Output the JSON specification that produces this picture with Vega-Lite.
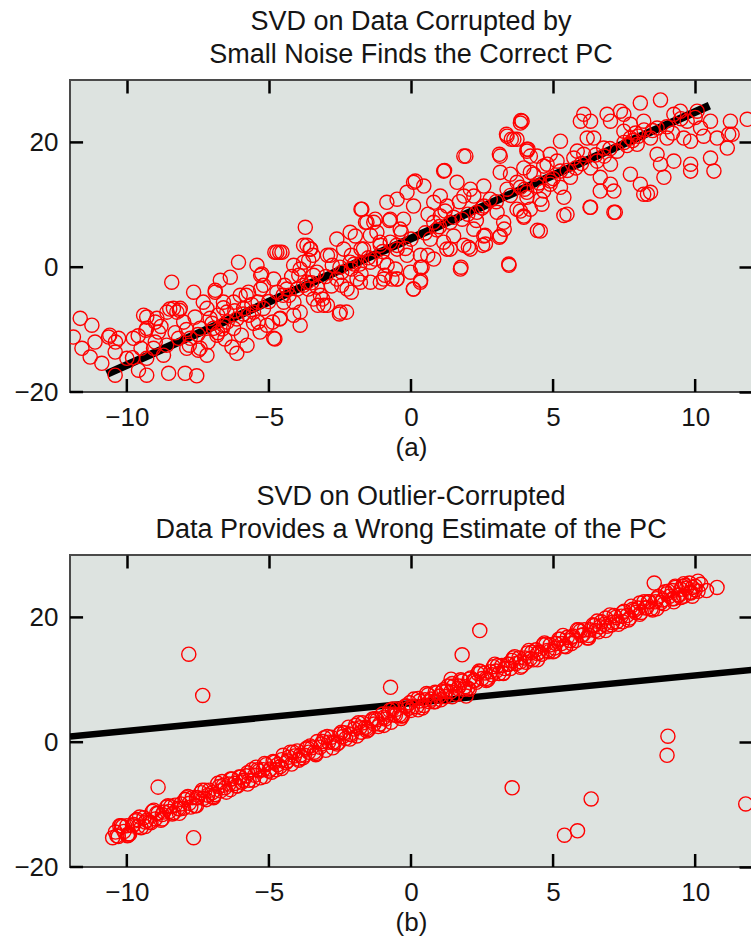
{
"$schema": "https://vega.github.io/schema/vega-lite/v6.json",
"background": "white",
"padding": {"left": 12, "top": 6, "right": 0, "bottom": 0},
"spacing": 20,
"config": {
  "font": "Liberation Sans, Arial, Helvetica, sans-serif",
  "view": {"fill": "#dde3e0", "stroke": "#4a4a4a", "strokeWidth": 2},
  "axis": {"grid": false, "domain": false, "zindex": 2, "ticks": true, "tickColor": "#000000", "tickOpacity": 1, "tickWidth": 2.5, "tickSize": 13, "offset": -13, "labelFontSize": 26, "labelColor": "#151515", "titleFontSize": 26, "titleFontWeight": "normal", "titleColor": "#151515", "labelPadding": 12, "titlePadding": 4},
  "title": {"fontSize": 27, "fontWeight": "normal", "lineHeight": 33, "color": "#151515", "offset": 10}
},
"datasets": {
  "xticks": [{"t": -10}, {"t": -5}, {"t": 0}, {"t": 5}, {"t": 10}],
  "yticks": [{"t": -20}, {"t": 0}, {"t": 20}],
  "lineA": [{"x": -10.7, "y": -17.1}, {"x": 10.5, "y": 25.9}],
  "lineB": [{"x": -12, "y": 0.9}, {"x": 12, "y": 11.6}],
  "ptsA": [
{"x":-11.64,"y":-8.2},{"x":-11.88,"y":-11.2},{"x":-11.23,"y":-9.3},{"x":-11.58,"y":-13.0},{"x":-11.12,"y":-12.0},{"x":-11.29,"y":-14.4},{"x":-10.64,"y":-11.2},{"x":-10.29,"y":-11.4},{"x":-10.41,"y":-13.6},{"x":-10.88,"y":-15.4},{"x":-10.41,"y":-17.3},{"x":-9.59,"y":-16.5},{"x":-9.3,"y":-17.3},{"x":-9.41,"y":-7.7},{"x":-9.3,"y":-9.8},{"x":-9.77,"y":-11.4},{"x":-8.89,"y":-10.4},{"x":-9.06,"y":-13.0},{"x":-8.59,"y":-7.2},{"x":-8.42,"y":-2.4},{"x":-8.24,"y":-7.2},{"x":-8.0,"y":-8.8},{"x":-8.53,"y":-17.0},{"x":-7.95,"y":-17.0},{"x":-7.54,"y":-17.4},{"x":-7.65,"y":-4.0},{"x":-7.77,"y":-11.4},{"x":-7.42,"y":-13.0},{"x":-7.18,"y":-14.1},{"x":-7.07,"y":-8.2},{"x":-6.89,"y":-3.7},{"x":-6.71,"y":-2.1},{"x":-6.36,"y":-1.6},{"x":-6.07,"y":0.8},{"x":-6.6,"y":-5.6},{"x":-6.48,"y":-7.2},{"x":-6.24,"y":-9.8},{"x":-6.13,"y":-13.8},{"x":-5.77,"y":-12.5},{"x":-5.54,"y":-7.2},{"x":-5.42,"y":0.3},{"x":-5.25,"y":-1.1},{"x":-5.19,"y":-2.9},{"x":-4.83,"y":-1.9},{"x":-4.72,"y":-4.0},{"x":-4.48,"y":-5.6},{"x":-4.83,"y":-11.4},{"x":-4.72,"y":2.4},{"x":-4.54,"y":2.4},{"x":-4.13,"y":0.3},{"x":-3.9,"y":-0.3},{"x":-3.72,"y":6.4},{"x":-3.66,"y":3.5},{"x":-3.6,"y":1.1},{"x":-3.9,"y":-7.2},{"x":-3.9,"y":-9.3},{"x":-4.6,"y":-8.2},{"x":-5.19,"y":-6.6},{"x":-5.72,"y":-4.0},{"x":-6.83,"y":-10.9},{"x":-7.42,"y":-9.8},{"x":-7.89,"y":-13.0},{"x":-8.18,"y":-11.4},{"x":-8.71,"y":-14.1},{"x":-9.3,"y":-14.6},{"x":-10.0,"y":-14.6},{"x":-9.3,"y":-8.0},{"x":-8.94,"y":-8.2},{"x":-8.36,"y":-6.6},{"x":-8.12,"y":-6.6},{"x":-7.18,"y":-6.6},{"x":-6.95,"y":-9.8},{"x":-6.6,"y":-9.3},{"x":-6.24,"y":-5.6},{"x":-6.01,"y":-4.5},{"x":-5.89,"y":-6.6},{"x":-5.07,"y":-9.3},{"x":-5.31,"y":-10.4},{"x":-5.54,"y":-9.0},{"x":-4.37,"y":-3.5},{"x":-4.13,"y":-7.7},{"x":-3.78,"y":-2.9},{"x":-3.43,"y":-5.1},{"x":-3.43,"y":-1.3},
{"x":-3.78,"y":0.8},{"x":-3.55,"y":2.9},{"x":-3.31,"y":-0.8},{"x":-3.66,"y":-2.4},{"x":-3.19,"y":-4.5},{"x":-3.07,"y":-6.1},{"x":-2.49,"y":-7.2},{"x":-2.61,"y":-1.9},{"x":-2.84,"y":1.9},{"x":-2.14,"y":5.6},{"x":-1.96,"y":5.0},{"x":-1.73,"y":9.3},{"x":-1.55,"y":7.2},{"x":-1.31,"y":7.2},{"x":-1.2,"y":5.6},{"x":-1.67,"y":2.9},{"x":-1.43,"y":0.8},{"x":-1.08,"y":3.5},{"x":-0.73,"y":7.7},{"x":-0.85,"y":10.4},{"x":-0.49,"y":10.9},{"x":-0.14,"y":12.0},{"x":0.15,"y":13.8},{"x":0.45,"y":13.0},{"x":0.09,"y":9.8},{"x":-0.26,"y":7.7},{"x":-0.38,"y":6.1},{"x":-0.73,"y":4.0},{"x":-0.96,"y":0.8},{"x":-0.49,"y":2.9},{"x":-0.55,"y":-0.3},{"x":-0.96,"y":-1.9},{"x":-0.49,"y":-1.9},{"x":-1.08,"y":-2.4},{"x":-1.9,"y":-1.9},{"x":-2.14,"y":0.8},{"x":-2.37,"y":2.9},{"x":-2.61,"y":4.5},{"x":-1.78,"y":-2.4},{"x":-2.25,"y":-3.5},{"x":0.09,"y":-3.5},{"x":0.33,"y":-2.4},{"x":0.39,"y":0.0},{"x":0.33,"y":1.9},{"x":0.8,"y":1.3},{"x":0.68,"y":4.5},{"x":0.8,"y":7.2},{"x":0.8,"y":10.4},{"x":1.03,"y":11.4},{"x":1.27,"y":9.8},{"x":1.15,"y":15.4},{"x":1.62,"y":13.6},{"x":1.86,"y":11.4},{"x":1.38,"y":7.2},{"x":1.5,"y":5.0},{"x":1.15,"y":4.0},{"x":1.86,"y":3.5},{"x":2.09,"y":2.9},{"x":1.74,"y":-0.3},{"x":1.38,"y":2.9},{"x":1.03,"y":8.2},{"x":2.21,"y":6.1},{"x":2.32,"y":8.8},{"x":2.21,"y":11.4},{"x":2.09,"y":12.5},{"x":2.56,"y":13.0},{"x":2.79,"y":10.9},{"x":2.56,"y":9.8},{"x":3.03,"y":8.8},{"x":3.26,"y":7.2},{"x":3.14,"y":5.0},{"x":2.62,"y":3.7},{"x":2.56,"y":5.0},{"x":1.86,"y":17.8},{"x":1.8,"y":7.7},{"x":3.14,"y":17.8},{"x":3.14,"y":15.2},{"x":3.5,"y":14.9},{"x":3.38,"y":12.5},{"x":3.73,"y":9.3},{"x":3.97,"y":8.2},{"x":4.2,"y":9.3},{"x":4.08,"y":12.0},{"x":4.44,"y":13.0},{"x":4.55,"y":10.9},{"x":4.55,"y":5.8},{"x":3.44,"y":0.5},{"x":3.38,"y":21.0},{"x":3.62,"y":20.5},{"x":3.85,"y":23.1},{"x":4.08,"y":18.9},{"x":4.44,"y":17.8},{"x":4.67,"y":16.2},{"x":4.2,"y":15.2},{"x":3.73,"y":13.6},{"x":0.09,"y":13.6},{"x":-0.14,"y":1.9},{"x":-0.02,"y":-0.8},
{"x":-0.67,"y":-1.9},{"x":-0.5,"y":-1.9},{"x":-0.92,"y":-1.3},{"x":0.08,"y":-3.5},{"x":0.34,"y":-2.1},{"x":0.34,"y":0.0},{"x":1.76,"y":0.0},{"x":3.45,"y":0.3},{"x":1.18,"y":15.5},{"x":1.93,"y":17.8},{"x":3.87,"y":23.5},{"x":3.36,"y":21.3},{"x":3.53,"y":20.5},{"x":0.59,"y":1.9},{"x":1.26,"y":2.9},{"x":2.02,"y":3.2},{"x":2.52,"y":3.5},{"x":2.61,"y":5.1},{"x":3.11,"y":4.8},{"x":3.28,"y":6.1},{"x":3.11,"y":18.1},{"x":4.12,"y":18.9},{"x":4.45,"y":5.9},{"x":5.38,"y":8.3},{"x":6.3,"y":9.6},{"x":7.14,"y":8.8},{"x":8.32,"y":11.7},
{"x":-1.76,"y":9.3},{"x":-1.6,"y":7.2},{"x":-1.26,"y":7.7},{"x":-0.76,"y":7.5},{"x":-0.34,"y":5.6},{"x":-1.43,"y":5.1},{"x":-1.09,"y":4.0},{"x":-1.76,"y":2.9},{"x":-2.1,"y":1.9},{"x":-1.26,"y":1.3},{"x":-0.84,"y":0.3},{"x":-2.1,"y":-0.3},{"x":-2.77,"y":0.3},{"x":-2.94,"y":1.9},{"x":-2.44,"y":-0.8},{"x":-1.76,"y":-1.1},{"x":-1.43,"y":-2.4},{"x":-2.44,"y":-2.9},{"x":-2.1,"y":-4.0},{"x":-2.27,"y":-7.2},{"x":-2.52,"y":-7.5},{"x":-3.11,"y":-5.1},{"x":-3.28,"y":-6.1},{"x":-2.94,"y":-6.1},{"x":-3.61,"y":-3.5},{"x":-3.78,"y":3.5},{"x":-3.53,"y":2.9},{"x":-3.45,"y":1.9},{"x":-3.95,"y":-1.3},{"x":-4.45,"y":-2.9},{"x":-4.29,"y":-4.5},{"x":-4.12,"y":-5.6},{"x":-4.62,"y":-8.3},{"x":-4.87,"y":-8.8},{"x":-4.79,"y":-11.5},{"x":-5.38,"y":-8.8},{"x":-5.71,"y":-7.7},{"x":-5.8,"y":-4.5},{"x":-5.29,"y":-1.3},{"x":-4.79,"y":2.4},{"x":-4.62,"y":2.4},
{"x":-9.33,"y":-10.1},{"x":-9.0,"y":-8.8},{"x":-8.49,"y":-6.7},{"x":-8.15,"y":-6.9},{"x":-7.8,"y":-12.5},{"x":-7.48,"y":-13.3},{"x":-7.14,"y":-12.0},{"x":-6.64,"y":-9.9},{"x":-6.47,"y":-8.8},{"x":-6.13,"y":-8.3},{"x":-5.97,"y":-10.9},{"x":-6.55,"y":-11.5},{"x":-6.3,"y":-12.8},{"x":-7.31,"y":-5.6},{"x":-6.89,"y":-4.0},{"x":-6.8,"y":-7.7},{"x":-5.38,"y":-5.6},{"x":-5.29,"y":-3.5},{"x":-10.6,"y":-10.9},{"x":-10.4,"y":-12.0},{"x":11.18,"y":21.3},
{"x":3.91,"y":23.4},{"x":3.73,"y":20.5},{"x":4.08,"y":18.6},{"x":4.2,"y":17.8},{"x":3.97,"y":15.9},{"x":4.32,"y":14.9},{"x":3.85,"y":12.8},{"x":4.08,"y":11.2},{"x":3.85,"y":9.0},{"x":3.97,"y":8.0},{"x":4.61,"y":10.1},{"x":4.67,"y":12.2},{"x":4.9,"y":13.3},{"x":4.79,"y":16.5},{"x":4.9,"y":18.1},{"x":5.26,"y":20.2},{"x":5.14,"y":17.0},{"x":5.26,"y":15.4},{"x":5.26,"y":12.8},{"x":5.49,"y":8.5},{"x":5.38,"y":11.2},{"x":5.61,"y":14.4},{"x":5.73,"y":17.5},{"x":5.85,"y":18.6},{"x":5.96,"y":23.4},{"x":6.08,"y":24.5},{"x":6.32,"y":23.4},{"x":6.2,"y":20.7},{"x":6.43,"y":20.7},{"x":6.08,"y":18.1},{"x":6.32,"y":15.9},{"x":6.55,"y":17.0},{"x":6.78,"y":19.1},{"x":6.66,"y":14.4},{"x":6.32,"y":9.6},{"x":6.66,"y":12.2},{"x":7.14,"y":12.2},{"x":7.02,"y":13.3},{"x":7.19,"y":8.8},{"x":7.02,"y":16.5},{"x":7.25,"y":18.6},{"x":7.49,"y":21.8},{"x":7.72,"y":20.7},{"x":7.96,"y":19.7},{"x":7.72,"y":22.9},{"x":7.37,"y":25.0},{"x":7.49,"y":24.5},{"x":6.9,"y":24.5},{"x":7.02,"y":23.4},{"x":8.07,"y":26.3},{"x":7.72,"y":14.9},{"x":8.07,"y":13.3},{"x":8.19,"y":23.4},{"x":8.43,"y":20.7},{"x":8.66,"y":22.3},{"x":8.78,"y":26.8},{"x":8.66,"y":18.1},{"x":8.78,"y":16.5},{"x":8.9,"y":14.4},{"x":9.25,"y":17.0},{"x":9.01,"y":20.7},{"x":9.25,"y":24.5},{"x":9.48,"y":25.0},{"x":9.72,"y":23.4},{"x":9.6,"y":20.7},{"x":9.84,"y":20.2},{"x":9.84,"y":16.5},{"x":9.84,"y":15.4},{"x":10.07,"y":25.0},{"x":10.19,"y":22.3},{"x":10.54,"y":23.4},{"x":10.66,"y":15.4},{"x":10.77,"y":20.7},{"x":11.13,"y":19.1},{"x":11.24,"y":23.4},{"x":11.3,"y":21.3},{"x":11.83,"y":23.7},{"x":8.19,"y":11.7},{"x":8.43,"y":12.0},{"x":10.54,"y":17.5},
{"x":5.0,"y":14.2},{"x":5.5,"y":15.5},{"x":6.0,"y":16.6},{"x":6.5,"y":18.0},{"x":7.0,"y":19.0},{"x":7.5,"y":20.0},{"x":8.0,"y":21.0},{"x":8.5,"y":21.9},{"x":9.0,"y":22.5},{"x":9.5,"y":23.8},{"x":10.0,"y":24.0},{"x":7.8,"y":20.3},{"x":7.6,"y":19.5},{"x":7.9,"y":21.5},{"x":8.2,"y":22.0},{"x":5.8,"y":15.9},{"x":6.8,"y":17.8},{"x":4.9,"y":13.8},{"x":9.2,"y":21.5},{"x":10.3,"y":21.0},
{"x":-9.8,"y":-14.5},{"x":-9.5,"y":-13.0},{"x":-9.0,"y":-12.0},{"x":-8.6,"y":-12.5},{"x":-8.3,"y":-10.5},{"x":-7.9,"y":-10.0},{"x":-7.5,"y":-10.8},{"x":-7.0,"y":-9.0},{"x":-6.8,"y":-10.5},{"x":-6.2,"y":-7.0},{"x":-5.9,"y":-7.5},{"x":-5.6,"y":-6.0},{"x":-5.0,"y":-5.5},{"x":-4.5,"y":-4.5},{"x":-4.0,"y":-3.5},{"x":-3.5,"y":-2.5},{"x":-3.0,"y":-1.5},{"x":-2.5,"y":0.0},{"x":-2.0,"y":0.5},{"x":-1.5,"y":1.5},{"x":-1.0,"y":2.5},{"x":-0.5,"y":3.5},{"x":0.0,"y":4.5},{"x":0.5,"y":5.5},{"x":1.0,"y":6.5},{"x":1.5,"y":8.0},{"x":2.0,"y":8.5},{"x":2.5,"y":9.5},{"x":3.0,"y":10.5},{"x":3.5,"y":11.5},{"x":4.0,"y":12.5},{"x":4.5,"y":13.5},{"x":1.2,"y":9.0},{"x":0.6,"y":8.5},{"x":0.9,"y":6.0},{"x":1.7,"y":10.5},{"x":2.3,"y":7.5},{"x":-0.2,"y":3.0},{"x":-1.8,"y":0.5},{"x":-2.8,"y":-3.0},{"x":-3.3,"y":-3.2},{"x":-4.2,"y":-1.5},{"x":-6.6,"y":-6.5},{"x":-7.6,"y":-8.0},{"x":-8.8,"y":-9.5},{"x":-9.6,"y":-11.0}
  ],
  "ptsB": [
{"x":-10.4,"y":-14.4},{"x":-10.3,"y":-15.1},{"x":-10.2,"y":-13.4},{"x":-10.1,"y":-14.3},{"x":-10.0,"y":-13.4},{"x":-9.9,"y":-14.7},{"x":-9.8,"y":-13.4},{"x":-9.7,"y":-12.6},{"x":-9.6,"y":-13.5},{"x":-9.5,"y":-13.7},{"x":-9.4,"y":-12.1},{"x":-9.3,"y":-12.5},{"x":-9.2,"y":-12.8},{"x":-9.1,"y":-11.1},{"x":-9.0,"y":-12.3},{"x":-8.9,"y":-11.4},{"x":-8.8,"y":-12.5},{"x":-8.7,"y":-11.2},{"x":-8.6,"y":-10.4},{"x":-8.5,"y":-11.1},{"x":-8.4,"y":-11.5},{"x":-8.3,"y":-10.1},{"x":-8.2,"y":-10.6},
{"x":-8.1,"y":-9.9},{"x":-8.0,"y":-10.6},{"x":-7.9,"y":-8.9},{"x":-7.8,"y":-9.8},{"x":-7.7,"y":-8.9},{"x":-7.6,"y":-10.2},{"x":-7.5,"y":-8.9},{"x":-7.4,"y":-8.1},{"x":-7.3,"y":-9.0},{"x":-7.2,"y":-9.2},{"x":-7.1,"y":-7.7},{"x":-7.0,"y":-8.1},{"x":-6.9,"y":-8.4},{"x":-6.8,"y":-6.6},{"x":-6.7,"y":-7.8},{"x":-6.6,"y":-6.9},{"x":-6.5,"y":-8.0},{"x":-6.4,"y":-6.7},{"x":-6.3,"y":-5.9},{"x":-6.2,"y":-6.6},{"x":-6.1,"y":-7.0},{"x":-6.0,"y":-5.6},{"x":-5.9,"y":-6.1},
{"x":-5.8,"y":-5.4},{"x":-5.7,"y":-6.1},{"x":-5.6,"y":-4.4},{"x":-5.5,"y":-5.3},{"x":-5.4,"y":-4.4},{"x":-5.3,"y":-5.7},{"x":-5.2,"y":-4.4},{"x":-5.1,"y":-3.6},{"x":-5.0,"y":-4.6},{"x":-4.9,"y":-4.8},{"x":-4.8,"y":-3.2},{"x":-4.7,"y":-3.6},{"x":-4.6,"y":-3.9},{"x":-4.5,"y":-2.1},{"x":-4.4,"y":-3.3},{"x":-4.3,"y":-2.4},{"x":-4.2,"y":-3.5},{"x":-4.1,"y":-2.2},{"x":-4.0,"y":-1.4},{"x":-3.9,"y":-2.1},{"x":-3.8,"y":-2.5},{"x":-3.7,"y":-1.1},{"x":-3.6,"y":-1.6},
{"x":-3.5,"y":-0.9},{"x":-3.4,"y":-1.6},{"x":-3.3,"y":0.1},{"x":-3.2,"y":-0.8},{"x":-3.1,"y":0.1},{"x":-3.0,"y":-1.3},{"x":-2.9,"y":0.0},{"x":-2.8,"y":0.8},{"x":-2.7,"y":-0.1},{"x":-2.6,"y":-0.3},{"x":-2.5,"y":1.3},{"x":-2.4,"y":0.9},{"x":-2.3,"y":0.6},{"x":-2.2,"y":2.4},{"x":-2.1,"y":1.2},{"x":-2.0,"y":2.1},{"x":-1.9,"y":1.0},{"x":-1.8,"y":2.3},{"x":-1.7,"y":3.1},{"x":-1.6,"y":2.4},{"x":-1.5,"y":2.0},{"x":-1.4,"y":3.4},{"x":-1.3,"y":2.9},
{"x":-1.2,"y":3.6},{"x":-1.1,"y":2.9},{"x":-1.0,"y":4.5},{"x":-0.9,"y":3.7},{"x":-0.8,"y":4.5},{"x":-0.7,"y":3.2},{"x":-0.6,"y":4.5},{"x":-0.5,"y":5.3},{"x":-0.4,"y":4.4},{"x":-0.3,"y":4.2},{"x":-0.2,"y":5.8},{"x":-0.1,"y":5.4},{"x":0.0,"y":5.1},{"x":0.1,"y":6.9},{"x":0.2,"y":5.7},{"x":0.3,"y":6.6},{"x":0.4,"y":5.5},{"x":0.5,"y":6.8},{"x":0.6,"y":7.6},{"x":0.7,"y":6.9},{"x":0.8,"y":6.5},{"x":0.9,"y":7.9},{"x":1.0,"y":7.4},
{"x":1.1,"y":8.1},{"x":1.2,"y":7.3},{"x":1.3,"y":9.0},{"x":1.4,"y":8.1},{"x":1.5,"y":9.0},{"x":1.6,"y":7.7},{"x":1.7,"y":9.0},{"x":1.8,"y":9.8},{"x":1.9,"y":8.9},{"x":2.0,"y":8.7},{"x":2.1,"y":10.3},{"x":2.2,"y":9.9},{"x":2.3,"y":9.6},{"x":2.4,"y":11.4},{"x":2.5,"y":10.2},{"x":2.6,"y":11.1},{"x":2.7,"y":10.0},{"x":2.8,"y":11.3},{"x":2.9,"y":12.1},{"x":3.0,"y":11.4},{"x":3.1,"y":11.0},{"x":3.2,"y":12.3},{"x":3.3,"y":11.8},
{"x":3.4,"y":12.5},{"x":3.5,"y":11.8},{"x":3.6,"y":13.5},{"x":3.7,"y":12.6},{"x":3.8,"y":13.5},{"x":3.9,"y":12.2},{"x":4.0,"y":13.5},{"x":4.1,"y":14.3},{"x":4.2,"y":13.4},{"x":4.3,"y":13.2},{"x":4.4,"y":14.8},{"x":4.5,"y":14.4},{"x":4.6,"y":14.1},{"x":4.7,"y":15.9},{"x":4.8,"y":14.7},{"x":4.9,"y":15.6},{"x":5.0,"y":14.5},{"x":5.1,"y":15.8},{"x":5.2,"y":16.5},{"x":5.3,"y":15.8},{"x":5.4,"y":15.4},{"x":5.5,"y":16.8},{"x":5.6,"y":16.3},
{"x":5.7,"y":17.0},{"x":5.8,"y":16.3},{"x":5.9,"y":18.0},{"x":6.0,"y":17.1},{"x":6.1,"y":18.0},{"x":6.2,"y":16.7},{"x":6.3,"y":18.0},{"x":6.4,"y":18.8},{"x":6.5,"y":17.9},{"x":6.6,"y":17.7},{"x":6.7,"y":19.3},{"x":6.8,"y":18.9},{"x":6.9,"y":18.6},{"x":7.0,"y":20.4},{"x":7.1,"y":19.2},{"x":7.2,"y":20.0},{"x":7.3,"y":18.9},{"x":7.4,"y":20.2},{"x":7.5,"y":21.0},{"x":7.6,"y":20.3},{"x":7.7,"y":19.9},{"x":7.8,"y":21.3},{"x":7.9,"y":20.8},
{"x":8.0,"y":21.5},{"x":8.1,"y":20.8},{"x":8.2,"y":22.5},{"x":8.3,"y":21.6},{"x":8.4,"y":22.5},{"x":8.5,"y":21.2},{"x":8.6,"y":22.5},{"x":8.7,"y":23.3},{"x":8.8,"y":22.4},{"x":8.9,"y":22.2},{"x":9.0,"y":23.8},{"x":9.1,"y":23.4},{"x":9.2,"y":23.0},{"x":9.3,"y":24.8},{"x":9.4,"y":23.6},{"x":9.5,"y":24.5},{"x":9.6,"y":23.4},{"x":9.7,"y":24.7},{"x":9.8,"y":25.5},{"x":9.9,"y":24.8},{"x":10.0,"y":24.4},{"x":10.1,"y":25.8},{"x":10.2,"y":25.3},
{"x":-10.35,"y":-15.0},{"x":-10.15,"y":-13.5},{"x":-9.95,"y":-14.7},{"x":-9.75,"y":-13.2},{"x":-9.55,"y":-12.0},{"x":-9.35,"y":-12.8},{"x":-9.15,"y":-12.9},{"x":-8.95,"y":-11.4},{"x":-8.75,"y":-11.6},{"x":-8.55,"y":-10.2},{"x":-8.35,"y":-11.3},{"x":-8.15,"y":-10.7},{"x":-7.95,"y":-9.2},{"x":-7.75,"y":-10.4},{"x":-7.55,"y":-8.9},{"x":-7.35,"y":-7.7},{"x":-7.15,"y":-8.5},{"x":-6.95,"y":-8.7},{"x":-6.75,"y":-7.1},{"x":-6.55,"y":-7.3},{"x":-6.35,"y":-5.9},{"x":-6.15,"y":-7.0},{"x":-5.95,"y":-6.4},{"x":-5.75,"y":-4.9},{"x":-5.55,"y":-6.1},{"x":-5.35,"y":-4.6},{"x":-5.15,"y":-3.4},{"x":-4.95,"y":-4.3},{"x":-4.75,"y":-4.4},{"x":-4.55,"y":-2.8},{"x":-4.35,"y":-3.0},{"x":-4.15,"y":-1.6},{"x":-3.95,"y":-2.7},{"x":-3.75,"y":-2.1},{"x":-3.55,"y":-0.6},{"x":-3.35,"y":-1.8},{"x":-3.15,"y":-0.3},{"x":-2.95,"y":0.9},{"x":-2.75,"y":0.0},{"x":-2.55,"y":-0.1},{"x":-2.35,"y":1.5},{"x":-2.15,"y":1.3},{"x":-1.95,"y":2.7},{"x":-1.75,"y":1.6},{"x":-1.55,"y":2.2},{"x":-1.35,"y":3.7},{"x":-1.15,"y":2.5},{"x":-0.95,"y":4.0},{"x":-0.75,"y":5.1},{"x":-0.55,"y":4.3},{"x":-0.35,"y":4.2},{"x":-0.15,"y":5.8},{"x":0.05,"y":5.6},{"x":0.25,"y":7.0},{"x":0.45,"y":5.9},{"x":0.65,"y":6.5},{"x":0.85,"y":8.0},{"x":1.05,"y":6.8},{"x":1.25,"y":8.2},{"x":1.45,"y":9.4},{"x":1.65,"y":8.6},{"x":1.85,"y":8.5},{"x":2.05,"y":10.1},{"x":2.25,"y":9.9},{"x":2.45,"y":11.3},{"x":2.65,"y":10.2},{"x":2.85,"y":10.8},{"x":3.05,"y":12.3},{"x":3.25,"y":11.0},{"x":3.45,"y":12.5},{"x":3.65,"y":13.7},{"x":3.85,"y":12.9},{"x":4.05,"y":12.8},{"x":4.25,"y":14.4},{"x":4.45,"y":14.2},{"x":4.65,"y":15.6},{"x":4.85,"y":14.5},{"x":5.05,"y":15.1},{"x":5.25,"y":16.5},{"x":5.45,"y":15.3},{"x":5.65,"y":16.8},{"x":5.85,"y":18.0},{"x":6.05,"y":17.2},{"x":6.25,"y":17.1},{"x":6.45,"y":18.7},{"x":6.65,"y":18.5},{"x":6.85,"y":19.9},{"x":7.05,"y":18.8},{"x":7.25,"y":19.3},{"x":7.45,"y":20.8},{"x":7.65,"y":19.6},{"x":7.85,"y":21.1},{"x":8.05,"y":22.3},{"x":8.25,"y":21.5},{"x":8.45,"y":21.4},{"x":8.65,"y":23.0},{"x":8.85,"y":22.8},{"x":9.05,"y":24.2},{"x":9.25,"y":23.0},{"x":9.45,"y":23.6},{"x":9.65,"y":25.1},{"x":9.85,"y":23.9},
{"x":-10.25,"y":-13.4},{"x":-9.95,"y":-14.9},{"x":-9.65,"y":-12.4},{"x":-9.35,"y":-13.5},{"x":-9.05,"y":-10.9},{"x":-8.75,"y":-12.3},{"x":-8.45,"y":-10.3},{"x":-8.15,"y":-11.4},{"x":-7.85,"y":-8.7},{"x":-7.55,"y":-10.2},{"x":-7.25,"y":-7.7},{"x":-6.95,"y":-8.9},{"x":-6.65,"y":-6.3},{"x":-6.35,"y":-7.6},{"x":-6.05,"y":-5.6},{"x":-5.75,"y":-6.7},{"x":-5.45,"y":-4.0},{"x":-5.15,"y":-5.5},{"x":-4.85,"y":-3.1},{"x":-4.55,"y":-4.2},{"x":-4.25,"y":-1.6},{"x":-3.95,"y":-2.9},{"x":-3.65,"y":-0.9},{"x":-3.35,"y":-2.0},{"x":-3.05,"y":0.7},{"x":-2.75,"y":-0.9},{"x":-2.45,"y":1.6},{"x":-2.15,"y":0.5},{"x":-1.85,"y":3.1},{"x":-1.55,"y":1.8},{"x":-1.25,"y":3.8},{"x":-0.95,"y":2.7},{"x":-0.65,"y":5.3},{"x":-0.35,"y":3.8},{"x":-0.05,"y":6.3},{"x":0.25,"y":5.2},{"x":0.55,"y":7.8},{"x":0.85,"y":6.5},{"x":1.15,"y":8.4},{"x":1.45,"y":7.3},{"x":1.75,"y":10.0},{"x":2.05,"y":8.5},{"x":2.35,"y":11.0},{"x":2.65,"y":9.9},{"x":2.95,"y":12.5},{"x":3.25,"y":11.1},{"x":3.55,"y":13.1},{"x":3.85,"y":12.0},{"x":4.15,"y":14.7},{"x":4.45,"y":13.2},{"x":4.75,"y":15.7},{"x":5.05,"y":14.6},{"x":5.35,"y":17.1},{"x":5.65,"y":15.8},{"x":5.95,"y":17.8},{"x":6.25,"y":16.7},{"x":6.55,"y":19.4},{"x":6.85,"y":17.9},{"x":7.15,"y":20.3},{"x":7.45,"y":19.3},{"x":7.75,"y":21.8},{"x":8.05,"y":20.5},{"x":8.35,"y":22.5},{"x":8.65,"y":21.4},{"x":8.95,"y":24.1},{"x":9.25,"y":22.5},{"x":9.55,"y":25.0},{"x":9.85,"y":24.0},
{"x":9.3,"y":25.0},{"x":9.6,"y":25.4},{"x":9.8,"y":24.0},{"x":10.0,"y":25.0},{"x":9.5,"y":23.2},{"x":9.9,"y":23.4},{"x":10.1,"y":24.2},{"x":9.2,"y":24.3},{"x":-10.5,"y":-15.3},{"x":-9.98,"y":-15.0},
{"x":-7.82,"y":14.1},{"x":-7.33,"y":7.5},{"x":-8.9,"y":-7.2},{"x":-7.65,"y":-15.3},{"x":-0.72,"y":8.8},{"x":1.8,"y":14.0},{"x":2.42,"y":17.9},{"x":3.56,"y":-7.3},{"x":6.34,"y":-9.1},{"x":5.4,"y":-14.9},{"x":5.86,"y":-14.2},{"x":9.04,"y":0.96},{"x":9.01,"y":-2.1},{"x":11.78,"y":-9.9},{"x":8.56,"y":25.5},{"x":10.77,"y":24.8},{"x":10.4,"y":24.3},{"x":1.41,"y":10.1},{"x":1.94,"y":7.4}
  ]
},
"vconcat": [
  {
    "width": 682, "height": 312,
    "title": {"text": ["SVD on Data Corrupted by", "Small Noise Finds the Correct PC"]},
    "layer": [
      {
        "data": {"name": "lineA"},
        "mark": {"type": "line", "color": "#000000", "strokeWidth": 8, "clip": true},
        "encoding": {
          "x": {"field": "x", "type": "quantitative", "scale": {"domain": [-12, 12], "nice": false, "zero": false}, "axis": {"orient": "bottom", "values": [-10, -5, 0, 5, 10], "title": "(a)", "offset": 0, "tickOpacity": 0, "labelPadding": -1}},
          "y": {"field": "y", "type": "quantitative", "scale": {"domain": [-20, 30], "nice": false, "zero": false}, "axis": {"orient": "left", "values": [-20, 0, 20], "title": null, "offset": 0, "tickOpacity": 0, "labelPadding": -1}}
        }
      },
      {
        "data": {"name": "ptsA"},
        "mark": {"type": "point", "shape": "circle", "filled": false, "color": "#ff0000", "size": 200, "strokeWidth": 1.4, "opacity": 1, "clip": true},
        "encoding": {
          "x": {"field": "x", "type": "quantitative", "axis": {"orient": "top", "values": [-10, -5, 0, 5, 10], "labels": false, "title": null}},
          "y": {"field": "y", "type": "quantitative", "axis": {"orient": "right", "values": [-20, 0, 20], "labels": false, "title": null}}
        }
      },
      {
        "data": {"name": "xticks"},
        "mark": {"type": "rule", "color": "#000000", "strokeWidth": 2.5},
        "encoding": {
          "x": {"field": "t", "type": "quantitative", "axis": null},
          "y": {"datum": -20, "type": "quantitative", "axis": null},
          "y2": {"datum": -17.92}
        }
      },
      {
        "data": {"name": "yticks"},
        "mark": {"type": "rule", "color": "#000000", "strokeWidth": 2.5},
        "encoding": {
          "y": {"field": "t", "type": "quantitative", "axis": null},
          "x": {"datum": -12, "type": "quantitative", "axis": null},
          "x2": {"datum": -11.54}
        }
      }
    ],
    "resolve": {"axis": {"x": "independent", "y": "independent"}}
  },
  {
    "width": 682, "height": 312,
    "title": {"text": ["SVD on Outlier-Corrupted", "Data Provides a Wrong Estimate of the PC"]},
    "layer": [
      {
        "data": {"name": "lineB"},
        "mark": {"type": "line", "color": "#000000", "strokeWidth": 6.5, "clip": true},
        "encoding": {
          "x": {"field": "x", "type": "quantitative", "scale": {"domain": [-12, 12], "nice": false, "zero": false}, "axis": {"orient": "bottom", "values": [-10, -5, 0, 5, 10], "title": "(b)", "offset": 0, "tickOpacity": 0, "labelPadding": -1}},
          "y": {"field": "y", "type": "quantitative", "scale": {"domain": [-20, 30], "nice": false, "zero": false}, "axis": {"orient": "left", "values": [-20, 0, 20], "title": null, "offset": 0, "tickOpacity": 0, "labelPadding": -1}}
        }
      },
      {
        "data": {"name": "ptsB"},
        "mark": {"type": "point", "shape": "circle", "filled": false, "color": "#ff0000", "size": 200, "strokeWidth": 1.4, "opacity": 1, "clip": true},
        "encoding": {
          "x": {"field": "x", "type": "quantitative", "axis": {"orient": "top", "values": [-10, -5, 0, 5, 10], "labels": false, "title": null}},
          "y": {"field": "y", "type": "quantitative", "axis": {"orient": "right", "values": [-20, 0, 20], "labels": false, "title": null}}
        }
      },
      {
        "data": {"name": "xticks"},
        "mark": {"type": "rule", "color": "#000000", "strokeWidth": 2.5},
        "encoding": {
          "x": {"field": "t", "type": "quantitative", "axis": null},
          "y": {"datum": -20, "type": "quantitative", "axis": null},
          "y2": {"datum": -17.92}
        }
      },
      {
        "data": {"name": "yticks"},
        "mark": {"type": "rule", "color": "#000000", "strokeWidth": 2.5},
        "encoding": {
          "y": {"field": "t", "type": "quantitative", "axis": null},
          "x": {"datum": -12, "type": "quantitative", "axis": null},
          "x2": {"datum": -11.54}
        }
      }
    ],
    "resolve": {"axis": {"x": "independent", "y": "independent"}}
  }
]
}
